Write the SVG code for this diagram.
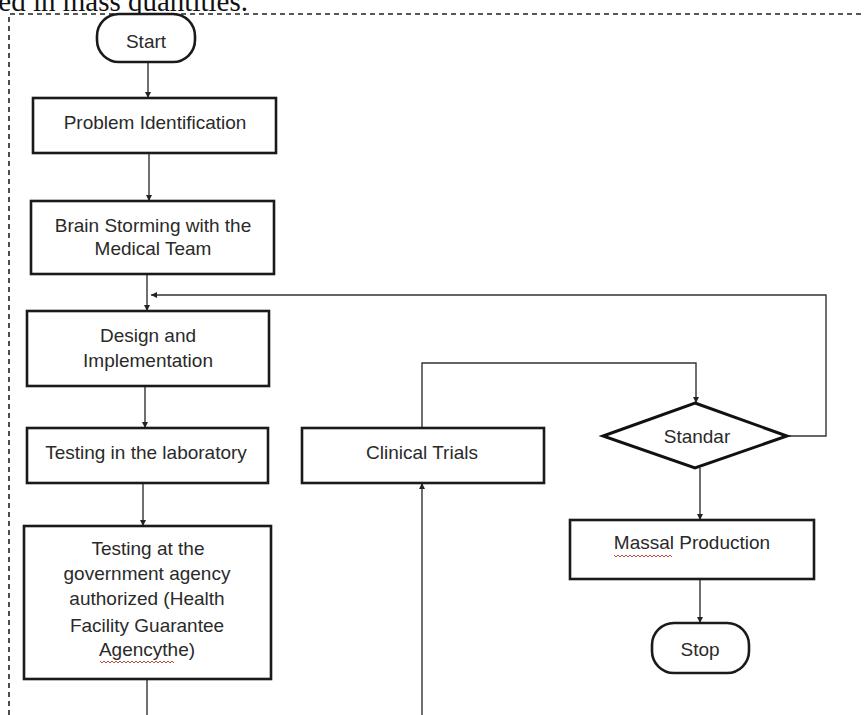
<svg xmlns="http://www.w3.org/2000/svg" width="864" height="715" viewBox="0 0 864 715">
<defs>
<style>
.box{fill:#fff;stroke:#1a1a1a;stroke-width:2.6}
.dia{fill:#fff;stroke:#111;stroke-width:3}
.lbl{font-family:"Liberation Sans",Arial,sans-serif;font-size:19px;fill:#2a2a2a;text-anchor:middle}
.con{fill:none;stroke:#333;stroke-width:1.4}
.frame{fill:none;stroke:#222;stroke-width:1.6;stroke-dasharray:5 4}
.wavy{fill:none;stroke:#c0392b;stroke-width:0.9}
</style>
<marker id="ah" viewBox="0 0 10 10" refX="10" refY="5" markerWidth="6" markerHeight="6" orient="auto" markerUnits="userSpaceOnUse">
<path d="M0,0 L10,5 L0,10 z" fill="#222"/>
</marker>
</defs>
<rect width="864" height="715" fill="#fff"/>
<text x="248" y="11" text-anchor="end" font-family="Liberation Serif,'Times New Roman',serif" font-size="29" fill="#111">sed in mass quantities.</text>
<path class="frame" d="M9,715 V14 H864"/>

<g id="connectors">
<path class="con" d="M148,62 V98" marker-end="url(#ah)"/>
<path class="con" d="M149,153 V201" marker-end="url(#ah)"/>
<path class="con" d="M147,274 V311" marker-end="url(#ah)"/>
<path class="con" d="M787,436 H826 V295 H151" marker-end="url(#ah)"/>
<path class="con" d="M145,386 V428" marker-end="url(#ah)"/>
<path class="con" d="M143,483 V526" marker-end="url(#ah)"/>
<path class="con" d="M147,679 V715"/>
<path class="con" d="M422,715 V483" marker-end="url(#ah)"/>
<path class="con" d="M422,428 V363 H696 V403" marker-end="url(#ah)"/>
<path class="con" d="M700,468 V520" marker-end="url(#ah)"/>
<path class="con" d="M700,579 V623" marker-end="url(#ah)"/>
</g>

<g id="start">
<rect class="box" x="97" y="14" width="98" height="48" rx="22"/>
<text class="lbl" x="146" y="48">Start</text>
</g>
<g id="problem">
<rect class="box" x="33" y="98" width="243" height="55"/>
<text class="lbl" x="155" y="129">Problem Identification</text>
</g>
<g id="brainstorm">
<rect class="box" x="31" y="201" width="243" height="73"/>
<text class="lbl" x="153" y="232">Brain Storming with the</text>
<text class="lbl" x="153" y="255">Medical Team</text>
</g>
<g id="design">
<rect class="box" x="27" y="311" width="242" height="75"/>
<text class="lbl" x="148" y="342">Design and</text>
<text class="lbl" x="148" y="367">Implementation</text>
</g>
<g id="lab">
<rect class="box" x="27" y="428" width="241" height="55"/>
<text class="lbl" x="146" y="459">Testing  in the laboratory</text>
</g>
<g id="government">
<rect class="box" x="24" y="526" width="247" height="153"/>
<text class="lbl" x="148" y="555">Testing at the</text>
<text class="lbl" x="147" y="580">government agency</text>
<text class="lbl" x="147" y="605">authorized (Health</text>
<text class="lbl" x="147" y="632">Facility Guarantee</text>
<text class="lbl" x="147" y="656">Agencythe)</text>
<path class="wavy" d="M100,661 l2,2 l2,-2 l2,2 l2,-2 l2,2 l2,-2 l2,2 l2,-2 l2,2 l2,-2 l2,2 l2,-2 l2,2 l2,-2 l2,2 l2,-2 l2,2 l2,-2 l2,2 l2,-2 l2,2 l2,-2 l2,2 l2,-2 l2,2 l2,-2 l2,2 l2,-2 l2,2 l2,-2 l2,2 l2,-2 l2,2 l2,-2 l2,2 l2,-2 l2,2"/>
</g>
<g id="clinical">
<rect class="box" x="302" y="428" width="242" height="55"/>
<text class="lbl" x="422" y="459">Clinical Trials</text>
</g>
<g id="standar">
<polygon class="dia" points="695,403 787,436 695,468 603,436"/>
<text class="lbl" x="697" y="443">Standar</text>
</g>
<g id="massal">
<rect class="box" x="570" y="520" width="244" height="59"/>
<text class="lbl" x="692" y="549">Massal Production</text>
<path class="wavy" d="M614,555 l2,2 l2,-2 l2,2 l2,-2 l2,2 l2,-2 l2,2 l2,-2 l2,2 l2,-2 l2,2 l2,-2 l2,2 l2,-2 l2,2 l2,-2 l2,2 l2,-2 l2,2 l2,-2 l2,2 l2,-2 l2,2 l2,-2 l2,2 l2,-2 l2,2 l2,-2 l2,2"/>
</g>
<g id="stop">
<rect class="box" x="652" y="623" width="97" height="50" rx="22"/>
<text class="lbl" x="700" y="656">Stop</text>
</g>
</svg>
